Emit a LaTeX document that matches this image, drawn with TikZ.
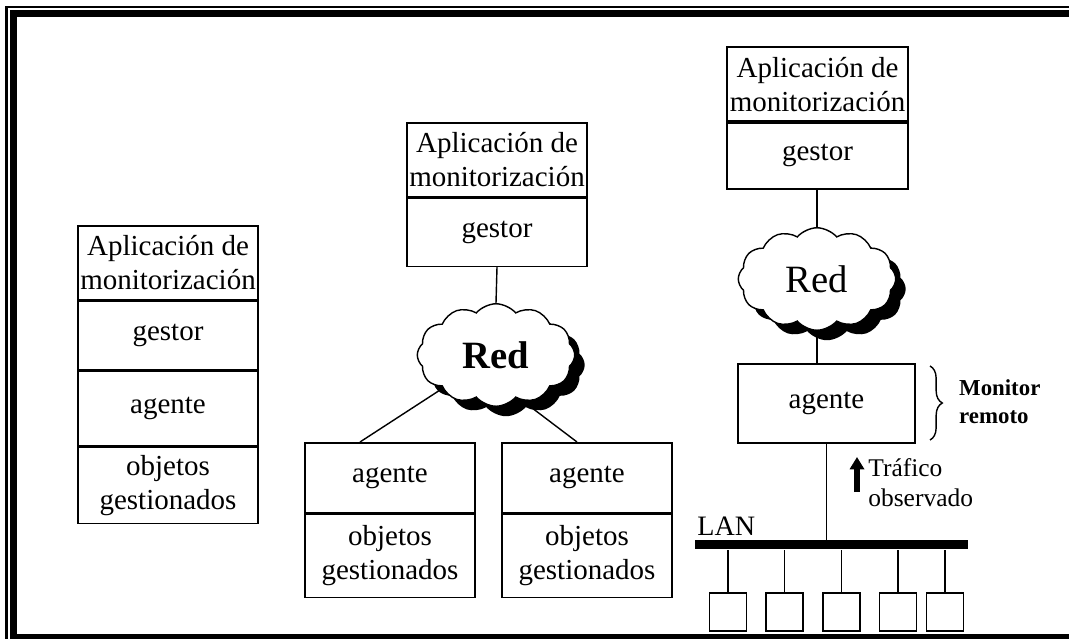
\documentclass[tikz,border=0pt]{standalone}
\usepackage{fontspec}
\setmainfont{Liberation Serif}
\usetikzlibrary{calc,positioning,arrows.meta,shapes.symbols,shadows,decorations.pathreplacing}

\begin{document}
\begin{tikzpicture}[x=0.02cm,y=-0.02cm,
    caja/.style={rectangle,draw=black,line width=0.9pt,align=center,inner sep=0pt,anchor=north,font=\fontsize{16.5}{19.5}\selectfont},
    nube/.style={cloud,cloud puffs=12,cloud puff arc=100,aspect=1.55,draw=black,line width=0.8pt,fill=white,inner sep=0pt,minimum width=3.15cm,minimum height=2.05cm,font=\fontsize{22}{24}\selectfont,general shadow={fill=black,shadow xshift=0.2cm,shadow yshift=-0.2cm}},
    puesto/.style={rectangle,draw=black,line width=0.9pt,minimum width=0.74cm,minimum height=0.76cm,anchor=north}]

  \useasboundingbox (0,0) rectangle (1069,639);

  % marco
  \draw [line width=1.3pt] (1069,7) -- (6.5,7) -- (6.5,639);
  \draw [line width=4pt] (1069,13.5) -- (13.5,13.5) -- (13.5,638) -- (1069,638);

  % gestor y agente en el mismo equipo
  \node (app_l) [caja,minimum width=3.6cm,minimum height=1.48cm] at(168,225) {Aplicación de\\monitorización};
  \node (gestor_l) [caja,minimum width=3.6cm,minimum height=1.36cm] at(app_l.south) {gestor};
  \node (agente_l) [caja,minimum width=3.6cm,minimum height=1.5cm] at(gestor_l.south) {agente};
  \node (obj_l) [caja,minimum width=3.6cm,minimum height=1.52cm] at(agente_l.south) {objetos\\gestionados};
  \draw [line width=1.6pt] (gestor_l.south west) -- (gestor_l.south east);

  % gestor remoto
  \node (app_m) [caja,minimum width=3.6cm,minimum height=1.48cm] at(497,122) {Aplicación de\\monitorización};
  \node (gestor_m) [caja,minimum width=3.6cm,minimum height=1.36cm] at(app_m.south) {gestor};
  \node (red_m) [nube] at(496,355) {\textbf{Red}};

  \node (agente_a) [caja,minimum width=3.4cm,minimum height=1.4cm] at(390,442) {agente};
  \node (obj_a) [caja,minimum width=3.4cm,minimum height=1.66cm] at(agente_a.south) {objetos\\gestionados};
  \node (agente_b) [caja,minimum width=3.4cm,minimum height=1.4cm] at(587,442) {agente};
  \node (obj_b) [caja,minimum width=3.4cm,minimum height=1.66cm] at(agente_b.south) {objetos\\gestionados};

  \draw [line width=0.8pt] (gestor_m.south) -- (red_m.north);
  \draw [line width=0.8pt] (red_m.212) -- ($(agente_a.north)+(-30,0)$);
  \draw [line width=0.8pt] (red_m.300) -- ($(agente_b.north)+(-10,0)$);

  % monitor remoto
  \node (app_r) [caja,minimum width=3.62cm,minimum height=1.48cm,anchor=south] at(817.5,122) {Aplicación de\\monitorización};
  \node (gestor_r) [caja,minimum width=3.62cm,minimum height=1.32cm] at(app_r.south) {gestor};
  \node (red_r) [nube] at(817,279) {Red};
  \node (agente_r) [caja,minimum width=3.54cm,minimum height=1.58cm] at(826.5,363) {agente};

  \draw [line width=0.8pt] (red_r.north) -- (red_r.north |- gestor_r.south);
  \draw [line width=0.8pt] (red_r.south) -- (red_r.south |- agente_r.north);

  \draw [decorate,decoration={brace,amplitude=7pt},line width=0.8pt] (930,366) -- (930,440);
  \node (monitor) [anchor=west,align=left,font=\bfseries\fontsize{13}{16}\selectfont] at(953,402) {Monitor\\remoto};

  % LAN
  \node (lan) [rectangle,fill=black,inner sep=0pt,minimum width=5.46cm,minimum height=0.18cm,anchor=north west] at(695,540) {};
  \node (lan_txt) [anchor=south west,inner sep=0pt,font=\fontsize{16}{18}\selectfont] at(697,536) {LAN};
  \draw [line width=0.8pt] (agente_r.south) -- (agente_r.south |- lan.north);

  \draw [line width=3pt,-{Triangle[length=7pt,width=8pt]}] (857,492) -- (857,457);
  \node (trafico) [anchor=north west,align=left,inner sep=0pt,font=\fontsize{14.5}{17}\selectfont] at(868,458) {Tráfico\\observado};

  \foreach \i/\x in {1/728,2/784.5,3/841.5,4/898,5/945}
   {
     \node (host_\i) [puesto] at(\x,592) {};
     \draw [line width=0.8pt] (host_\i.north) -- (host_\i.north |- lan.south);
   }

\end{tikzpicture}
\end{document}
